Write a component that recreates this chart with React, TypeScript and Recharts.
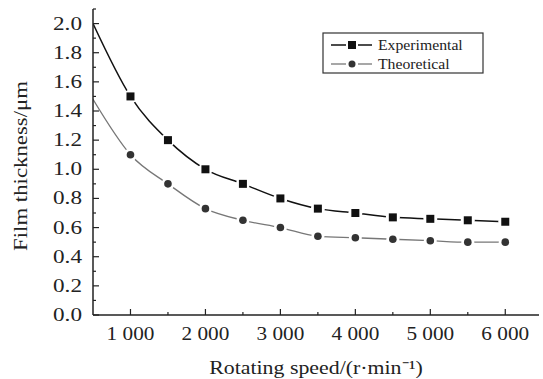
import React from "react";
import { LineChart, Line, XAxis, YAxis } from "recharts";

const speeds = [500, 1000, 1500, 2000, 2500, 3000, 3500, 4000, 4500, 5000, 5500, 6000];
const experimental = [2.0, 1.5, 1.2, 1.0, 0.9, 0.8, 0.73, 0.7, 0.67, 0.66, 0.65, 0.64];
const theoretical = [1.48, 1.1, 0.9, 0.73, 0.65, 0.6, 0.54, 0.53, 0.52, 0.51, 0.5, 0.5];
const xTicks = [1000, 1500, 2000, 2500, 3000, 3500, 4000, 4500, 5000, 5500, 6000];
const yTicks = Array.from({ length: 22 }, (_, i) => i / 10);

const data = speeds.map((s, i) => ({ speed: s, exp: experimental[i], theo: theoretical[i] }));

const font = "'Liberation Serif', 'Times New Roman', serif";

function fmtSpeed(v: number) {
  return v >= 1000 ? `${Math.floor(v / 1000)} ${String(v % 1000).padStart(3, "0")}` : String(v);
}

// Times text in the source is a little wider than Liberation Serif, so stretch it
function WideText({ x, y, rotate = 0, sx = 1.15, size = 19, anchor = "middle", children }: any) {
  return (
    <g transform={`translate(${x} ${y}) rotate(${rotate}) scale(${sx} 1)`}>
      <text x={0} y={0} textAnchor={anchor} fontSize={size} fontFamily={font} fill="#222">
        {children}
      </text>
    </g>
  );
}

function YTick({ x, y, payload }: any) {
  const v = payload.value as number;
  const major = Math.round(v * 10) % 2 === 0;
  return (
    <g>
      <line x1={x} x2={x + (major ? 6 : 3)} y1={y} y2={y} stroke="#222" strokeWidth={1.2} />
      {major && (
        <WideText x={x - 11} y={y + 6} anchor="end" sx={1.22}>
          {v.toFixed(1)}
        </WideText>
      )}
    </g>
  );
}

function XTick({ x, y, payload }: any) {
  const v = payload.value as number;
  const major = v % 1000 === 0;
  return (
    <g>
      <line x1={x} x2={x} y1={y} y2={y - (major ? 6 : 3)} stroke="#222" strokeWidth={1.2} />
      {major && (
        <WideText x={x} y={y + 25} sx={1.12}>
          {fmtSpeed(v)}
        </WideText>
      )}
    </g>
  );
}

function SquareDot({ cx, cy, index }: any) {
  if (index === 0) return <g key={`s${index}`} />;
  return (
    <g key={`s${index}`}>
      <circle cx={cx} cy={cy} r={7} fill="#fff" />
      <rect x={cx - 4} y={cy - 4} width={8} height={8} fill="#111" />
    </g>
  );
}

function RoundDot({ cx, cy, index }: any) {
  if (index === 0) return <g key={`r${index}`} />;
  return (
    <g key={`r${index}`}>
      <circle cx={cx} cy={cy} r={6.5} fill="#fff" />
      <circle cx={cx} cy={cy} r={3.8} fill="#333" />
    </g>
  );
}

export default function App() {
  return (
    <div style={{ position: "absolute", left: 0, top: 0, width: 543, height: 379, background: "#fff" }}>
      <LineChart width={543} height={379} data={data} margin={{ top: 9, right: 4, bottom: 0, left: 0 }}>
        <XAxis
          dataKey="speed"
          type="number"
          domain={[500, 6450]}
          ticks={xTicks}
          tick={<XTick />}
          tickLine={false}
          tickSize={0}
          tickMargin={0}
          height={64}
          axisLine={{ stroke: "#222", strokeWidth: 1.5 }}
          allowDataOverflow
        />
        <YAxis
          type="number"
          domain={[0, 2.1]}
          ticks={yTicks}
          tick={<YTick />}
          tickLine={false}
          tickSize={0}
          tickMargin={0}
          width={93}
          interval={0}
          axisLine={{ stroke: "#222", strokeWidth: 1.5 }}
          allowDataOverflow
        />
        <Line
          type="monotone"
          dataKey="exp"
          stroke="#111"
          strokeWidth={1.5}
          dot={<SquareDot />}
          activeDot={false}
          isAnimationActive={false}
        />
        <Line
          type="monotone"
          dataKey="theo"
          stroke="#777"
          strokeWidth={1.3}
          dot={<RoundDot />}
          activeDot={false}
          isAnimationActive={false}
        />
        <g>
          <rect x={323} y={33} width={160} height={40} fill="#fff" stroke="#333" strokeWidth={1.2} />
          <line x1={331} x2={346} y1={45} y2={45} stroke="#111" strokeWidth={1.5} />
          <rect x={348} y={41} width={8} height={8} fill="#111" />
          <line x1={358} x2={372} y1={45} y2={45} stroke="#111" strokeWidth={1.5} />
          <WideText x={378} y={50} size={15} sx={1.05} anchor="start">Experimental</WideText>
          <line x1={331} x2={346} y1={64} y2={64} stroke="#777" strokeWidth={1.3} />
          <circle cx={352} cy={64} r={3.5} fill="#333" />
          <line x1={358} x2={372} y1={64} y2={64} stroke="#777" strokeWidth={1.3} />
          <WideText x={378} y={69} size={15} sx={1.05} anchor="start">Theoretical</WideText>
        </g>
        <WideText x={316} y={374} sx={1.15}>
          Rotating speed/(r·min⁻¹)
        </WideText>
        <WideText x={27} y={166} rotate={-90} sx={1.2}>
          Film thickness/μm
        </WideText>
      </LineChart>
    </div>
  );
}
